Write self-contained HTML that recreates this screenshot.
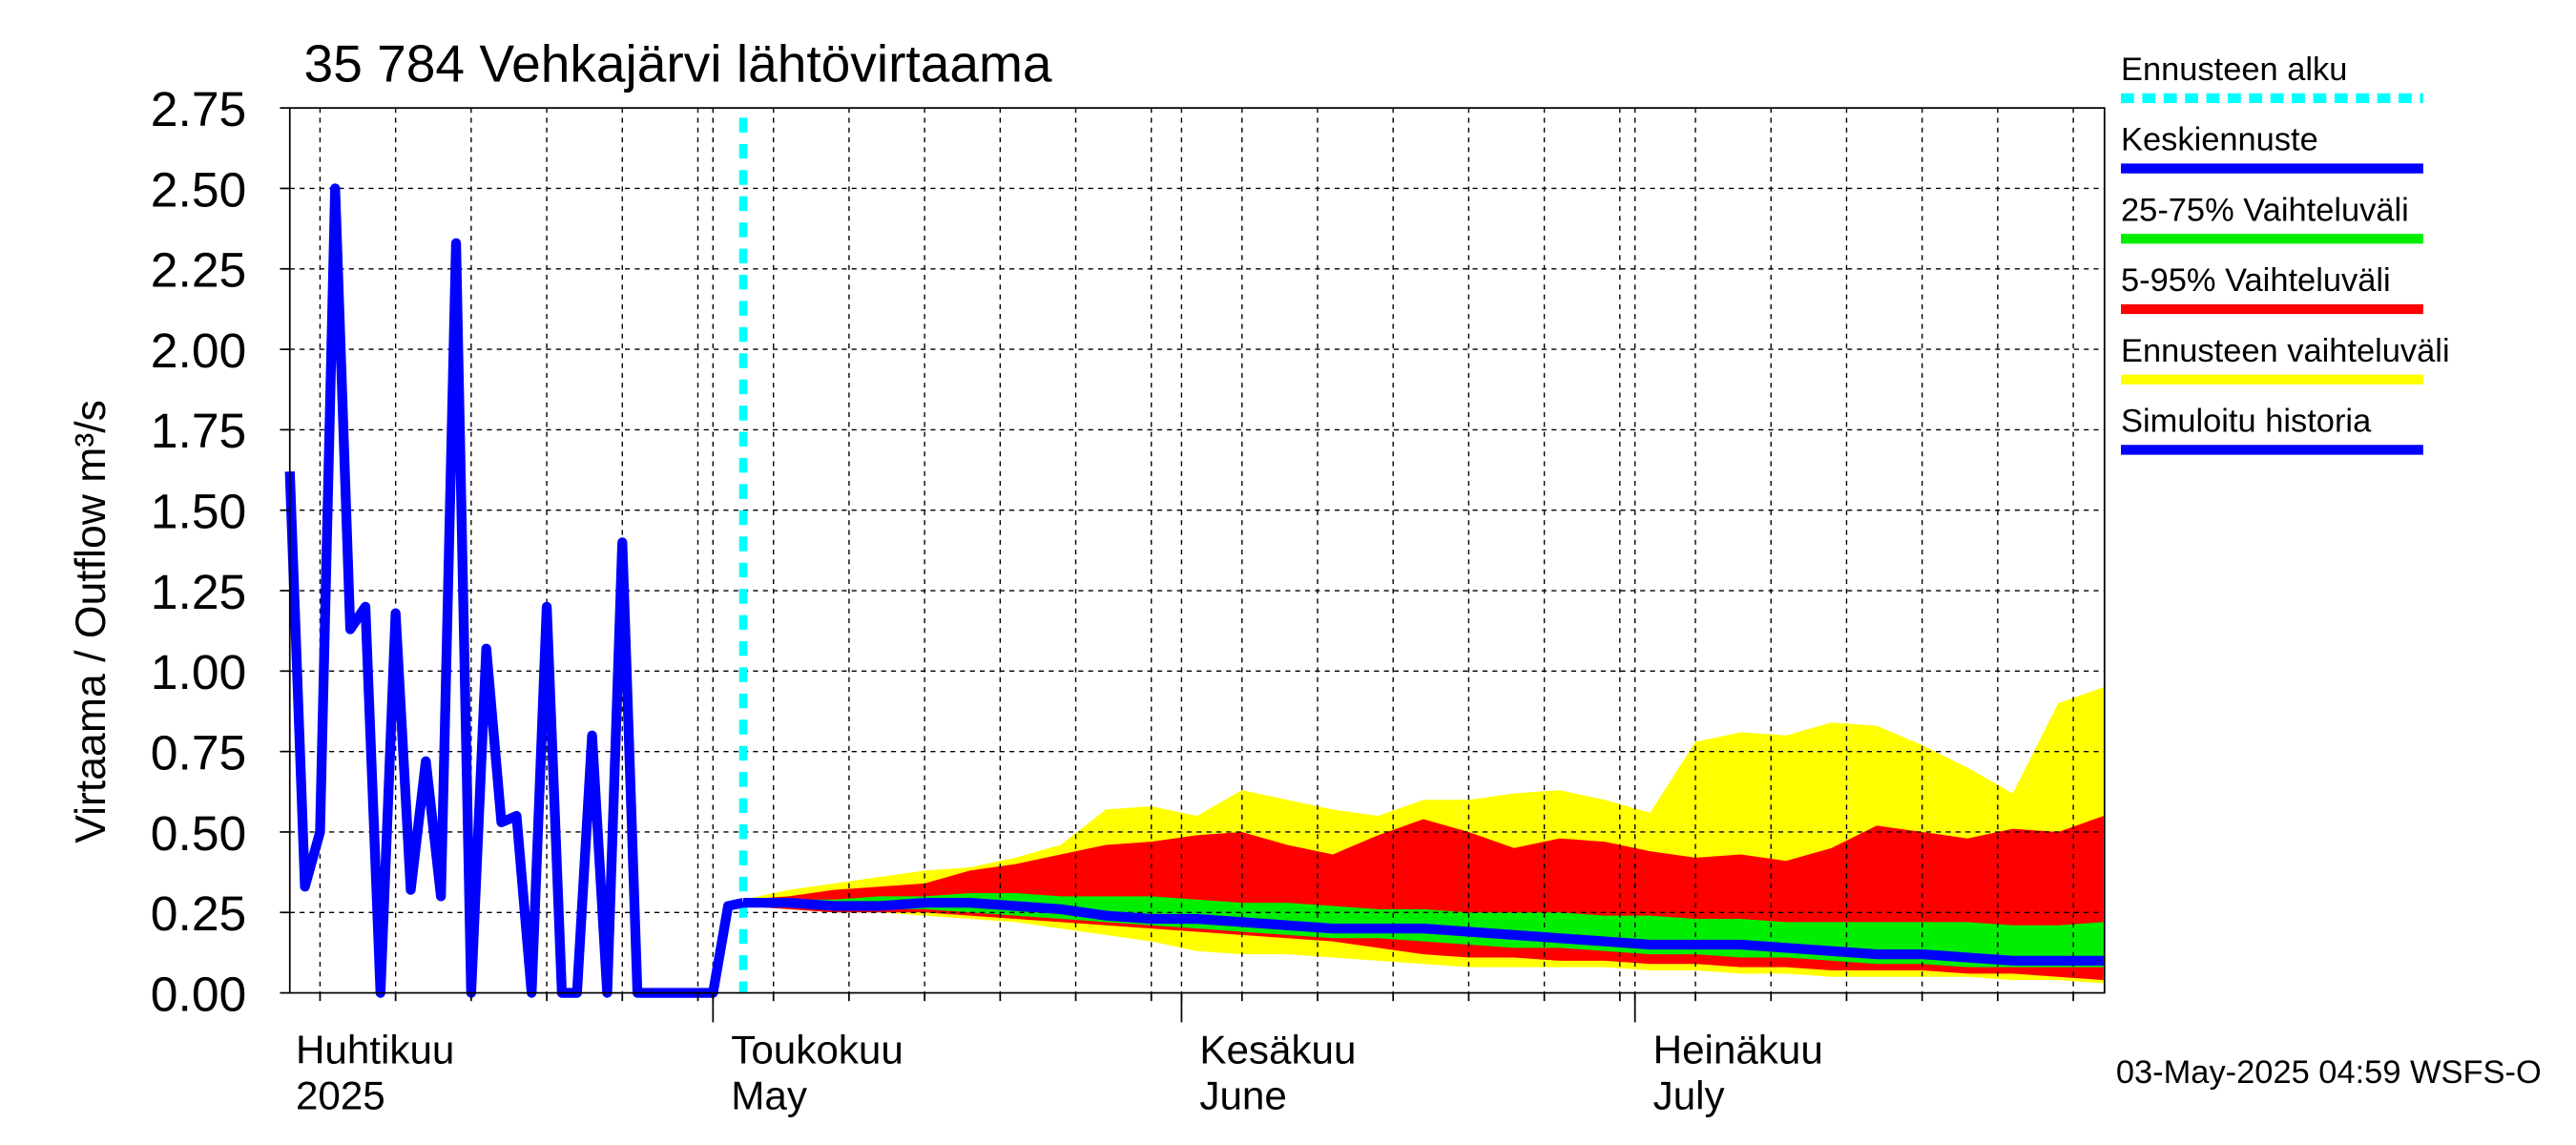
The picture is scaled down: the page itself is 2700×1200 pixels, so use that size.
<!DOCTYPE html>
<html><head><meta charset="utf-8"><style>
html,body{margin:0;padding:0;background:#fff;}
svg{display:block;font-family:"Liberation Sans",sans-serif;}
</style></head><body>
<svg id="chart" width="2700" height="1200" viewBox="0 0 1568 700" preserveAspectRatio="none" xmlns="http://www.w3.org/2000/svg">
<rect width="1568" height="700" fill="#fff"/>
<g id="bands"></g>
<g id="grid"></g>
<g id="lines"></g>
<g id="axes"></g>
<text x="185" y="50" font-size="32">35 784 Vehkajärvi lähtövirtaama</text>
<text transform="translate(64,380) rotate(-90)" font-size="26" text-anchor="middle">Virtaama / Outflow    m³/s</text>
<text x="1288" y="662" font-size="20">03-May-2025 04:59 WSFS-O</text>
<g id="legend"></g>
</svg>
<script>
// history daily values from 3 Apr (day 0) to 3 May (day 30)
const histDays = [0,1,2,3,4,5,6,7,8,9,10,11,12,13,14,15,16,17,18,19,20,21,22,23,24,25,26,27,28,29,30];
const histVals = [1.62,0.33,0.5,2.5,1.13,1.2,0,1.18,0.32,0.72,0.3,2.33,0,1.07,0.53,0.55,0,1.2,0,0,0.8,0,1.4,0,0,0,0,0,0,0.27,0.28];
// forecast every 3 days from day 30
const fcDays = [30,33,36,39,42,45,48,51,54,57,60,63,66,69,72,75,78,81,84,87,90,93,96,99,102,105,108,111,114,117,120];
const fcMedian = [0.28,0.28,0.27,0.27,0.28,0.28,0.27,0.26,0.24,0.23,0.23,0.22,0.21,0.20,0.20,0.20,0.19,0.18,0.17,0.16,0.15,0.15,0.15,0.14,0.13,0.12,0.12,0.11,0.10,0.10,0.10];
const fcP25 = [0.27,0.27,0.26,0.26,0.26,0.25,0.24,0.23,0.22,0.21,0.20,0.19,0.18,0.17,0.17,0.16,0.15,0.14,0.14,0.13,0.12,0.12,0.11,0.11,0.10,0.09,0.09,0.08,0.08,0.08,0.08];
const fcP75 = [0.29,0.29,0.29,0.30,0.30,0.31,0.31,0.30,0.30,0.30,0.29,0.28,0.28,0.27,0.26,0.26,0.25,0.25,0.25,0.24,0.24,0.23,0.23,0.22,0.22,0.22,0.22,0.22,0.21,0.21,0.22];
const fcP5 = [0.27,0.26,0.25,0.25,0.25,0.24,0.23,0.22,0.21,0.20,0.19,0.18,0.17,0.16,0.14,0.12,0.11,0.11,0.10,0.10,0.09,0.09,0.08,0.08,0.07,0.07,0.07,0.06,0.06,0.05,0.04];
const fcP95 = [0.29,0.30,0.32,0.33,0.34,0.38,0.40,0.43,0.46,0.47,0.49,0.50,0.46,0.43,0.49,0.54,0.50,0.45,0.48,0.47,0.44,0.42,0.43,0.41,0.45,0.52,0.50,0.48,0.51,0.50,0.55];
const fcMax = [0.29,0.32,0.34,0.36,0.38,0.39,0.42,0.46,0.57,0.58,0.55,0.63,0.60,0.57,0.55,0.60,0.60,0.62,0.63,0.60,0.56,0.78,0.81,0.80,0.84,0.83,0.77,0.70,0.62,0.90,0.95];
const fcMin = [0.27,0.26,0.25,0.25,0.24,0.23,0.22,0.20,0.18,0.16,0.13,0.12,0.12,0.11,0.10,0.09,0.08,0.08,0.08,0.08,0.07,0.07,0.06,0.06,0.05,0.05,0.05,0.05,0.04,0.04,0.03];
const yTicks = [0,0.25,0.5,0.75,1.0,1.25,1.5,1.75,2.0,2.25,2.5,2.75];
const forecastStartDay = 30;
const monthDays = [-2,28,59,89];  // Apr1, May1, Jun1, Jul1 relative to Apr 3
const monthFi = ["Huhtikuu","Toukokuu","Kesäkuu","Heinäkuu"];
const monthEn = ["2025","May","June","July"];

const X0=176.4, PX=9.2, Y0=607, YT=66, YMAX=2.75, XEND=1281;
const x = d => X0 + d*PX;
const y = v => Y0 - v/YMAX*(Y0-YT);
const NS="http://www.w3.org/2000/svg";
function mk(tag, attrs, parent){const e=document.createElementNS(NS,tag);for(const k in attrs)e.setAttribute(k,attrs[k]);parent.appendChild(e);return e;}
const bands=document.getElementById('bands'), grid=document.getElementById('grid'), lines=document.getElementById('lines'), axes=document.getElementById('axes'), legend=document.getElementById('legend');

function band(lo,hi,color,name){
  let d='M'+fcDays.map((t,i)=>x(t)+','+y(hi[i])).join(' L');
  for(let i=fcDays.length-1;i>=0;i--) d+=' L'+x(fcDays[i])+','+y(lo[i]);
  const p=mk('path',{d:d+' Z',fill:color},bands);
  
  
}
band(fcMin,fcMax,'#ffff00','forecast-range-band');
band(fcP5,fcP95,'#ff0000','band-5-95');
band(fcP25,fcP75,'#00ee00','band-25-75');

yTicks.forEach(v=>{
  if(v>0&&v<YMAX){const l=mk('line',{x1:X0,x2:XEND,y1:y(v),y2:y(v),stroke:'#000','stroke-width':0.8,'stroke-dasharray':'3,3'},grid);
  }
});
const gridDays=[];
for(let m=0;m<4;m++){[0,4,9,14,19,24,29].forEach(o=>{const d=monthDays[m]+o; if(d>0&&d<120 && (m<3? d<monthDays[m+1]:true)) gridDays.push(d);});}
gridDays.forEach(d=>{const l=mk('line',{x1:x(d),x2:x(d),y1:YT,y2:Y0,stroke:'#000','stroke-width':0.8,'stroke-dasharray':'3,3'},grid);
  });

const fs=mk('line',{x1:x(forecastStartDay),x2:x(forecastStartDay),y1:72,y2:Y0,stroke:'#00ffff','stroke-width':5,'stroke-dasharray':'9,7'},lines);


const hp=mk('polyline',{points:histDays.map((d,i)=>x(d)+','+y(histVals[i])).join(' '),fill:'none',stroke:'#0000ff','stroke-width':6,'stroke-linejoin':'round'},lines);

const mp=mk('polyline',{points:fcDays.map((d,i)=>x(d)+','+y(fcMedian[i])).join(' '),fill:'none',stroke:'#0000ff','stroke-width':6,'stroke-linejoin':'round'},lines);


const fr=mk('rect',{x:X0,y:YT,width:XEND-X0,height:Y0-YT,fill:'none',stroke:'#000','stroke-width':1},axes);

yTicks.forEach(v=>{
  mk('line',{x1:X0-6,x2:X0,y1:y(v),y2:y(v),stroke:'#000','stroke-width':1},axes);
  const t=mk('text',{x:150,y:y(v)+11,'font-size':30,'text-anchor':'end'},axes);
  t.textContent=v.toFixed(2);
  
});
gridDays.forEach(d=>mk('line',{x1:x(d),x2:x(d),y1:Y0,y2:Y0+5,stroke:'#000','stroke-width':1},axes));
monthDays.forEach((d,i)=>{
  if(d>0) mk('line',{x1:x(d),x2:x(d),y1:Y0,y2:Y0+18,stroke:'#000','stroke-width':1},axes);
  const lx = d>0 ? x(d)+11 : 180;
  const t1=mk('text',{x:lx,y:650,'font-size':24.5},axes); t1.textContent=monthFi[i];
  
  const t2=mk('text',{x:lx,y:678,'font-size':24.5},axes); t2.textContent=monthEn[i];
  
});

const legNames=["Ennusteen alku","Keskiennuste","25-75% Vaihteluväli","5-95% Vaihteluväli","Ennusteen vaihteluväli","Simuloitu historia"];
const legColors=["#00ffff","#0000ff","#00ee00","#ff0000","#ffff00","#0000ff"];
legNames.forEach((n,i)=>{
  const yy=49+i*43;
  const t=mk('text',{x:1291,y:yy,'font-size':20},legend); t.textContent=n;
  
  const a={x1:1291,x2:1475,y1:yy+11,y2:yy+11,stroke:legColors[i],'stroke-width':6};
  if(i===0) a['stroke-dasharray']='8,5';
  const l=mk('line',a,legend);
  
});
</script>
</body></html>
